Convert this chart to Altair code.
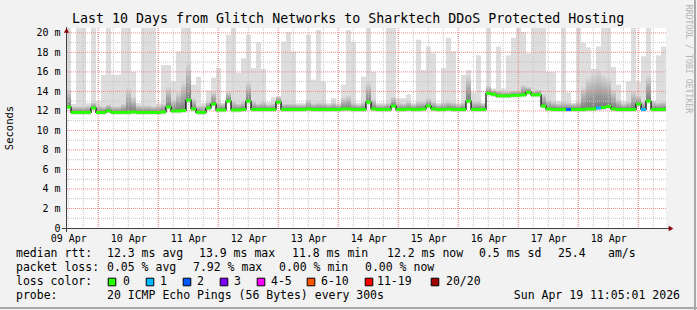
import json
import altair as alt
import pandas as pd

# ---------------- data ----------------
TITLE = "Last 10 Days from Glitch Networks to Sharktech DDoS Protected Hosting"
DAY_LABELS = ["09 Apr", "10 Apr", "11 Apr", "12 Apr", "13 Apr",
              "14 Apr", "15 Apr", "16 Apr", "17 Apr", "18 Apr"]
BIN_HOURS = 2          # one smoke column every 2 hours, 120 columns over 10 days
START_OFFSET_NOON = 55 / 60   # graph starts Apr 09 11:05 -> noon is 0.9167 h in

median_ms = [
    12.4, 11.85, 11.85, 11.85, 11.85, 12.3, 11.85, 11.85, 12.0, 11.85,
    11.85, 11.85, 11.85, 11.9, 11.85, 11.85, 11.85, 11.85, 11.85, 11.9,
    12.4, 12.0, 12.0, 12.05, 13.1, 12.2, 11.85, 11.85, 12.3, 12.7,
    12.1, 12.1, 13.0, 12.1, 12.1, 12.15, 13.0, 12.15, 12.15, 12.15,
    12.15, 12.15, 12.9, 12.15, 12.15, 12.15, 12.15, 12.15, 12.2, 12.15,
    12.15, 12.15, 12.15, 12.15, 12.15, 12.2, 12.2, 12.15, 12.15, 12.15,
    12.9, 12.2, 12.15, 12.15, 12.15, 12.5, 12.15, 12.15, 12.2, 12.15,
    12.15, 12.2, 12.5, 12.2, 12.15, 12.15, 12.2, 12.15, 12.15, 12.15,
    13.0, 12.15, 12.15, 12.15, 13.8, 13.7, 13.55, 13.55, 13.55, 13.6,
    13.6, 13.65, 13.9, 13.65, 13.65, 12.5, 12.2, 12.15, 12.15, 12.15,
    12.15, 12.15, 12.15, 12.15, 12.2, 12.2, 12.3, 12.35, 12.45, 12.2,
    12.15, 12.15, 12.15, 12.15, 12.7, 12.15, 13.0, 12.15, 12.15, 12.15,
]

smoke_max = [
    20.5, 12.7, 20.5, 20.5, 12.8, 20.5, 13.0, 15.7, 20.5, 15.7,
    15.7, 20.5, 20.5, 16.0, 12.8, 20.5, 20.5, 20.5, 12.8, 16.7,
    16.7, 15.0, 18.1, 20.5, 20.5, 14.7, 15.5, 12.8, 14.1, 15.4,
    16.4, 12.8, 19.8, 20.5, 15.9, 17.4, 19.8, 16.4, 19.0, 16.3,
    12.9, 13.4, 13.4, 19.1, 20.1, 18.1, 12.8, 12.8, 19.8, 15.2,
    20.3, 15.0, 12.8, 13.3, 12.8, 14.7, 20.3, 19.1, 12.8, 15.5,
    20.5, 16.0, 12.8, 12.8, 20.5, 20.5, 13.3, 13.3, 13.7, 12.8,
    19.3, 16.2, 18.6, 17.9, 12.8, 16.4, 19.5, 18.1, 12.8, 15.7,
    16.2, 13.9, 17.7, 12.8, 20.5, 14.3, 18.6, 14.3, 17.7, 19.5,
    20.5, 20.1, 17.9, 20.5, 20.5, 20.5, 16.0, 16.0, 13.0, 20.5,
    13.9, 12.8, 20.5, 19.0, 18.5, 16.3, 18.6, 20.5, 20.5, 16.5,
    14.7, 13.0, 15.0, 20.5, 15.0, 17.6, 20.5, 13.0, 17.7, 18.6,
]

smoke_mid = [
    14.3, 12.5, 12.5, 12.5, 12.6, 12.9, 12.6, 12.5, 12.7, 12.5,
    12.5, 12.8, 14.4, 13.5, 12.6, 12.6, 12.6, 12.5, 12.6, 12.8,
    14.5, 13.2, 14.0, 15.0, 17.0, 13.3, 12.6, 12.6, 13.0, 14.0,
    12.9, 12.8, 14.0, 13.0, 12.8, 13.0, 15.0, 13.0, 12.8, 13.0,
    12.7, 12.8, 13.5, 12.8, 12.8, 12.8, 12.7, 12.7, 13.2, 12.8,
    12.9, 12.9, 12.7, 12.9, 12.7, 13.4, 13.6, 12.9, 12.7, 12.9,
    15.0, 13.2, 12.7, 12.7, 12.9, 13.5, 12.9, 12.8, 13.0, 12.7,
    13.0, 13.0, 13.3, 13.0, 12.7, 12.9, 13.0, 12.9, 12.7, 12.9,
    15.7, 13.0, 13.0, 12.8, 14.6, 14.2, 14.1, 14.0, 14.0, 14.1,
    14.1, 14.7, 14.5, 14.1, 14.2, 13.8, 13.2, 13.0, 12.8, 13.0,
    12.9, 12.8, 13.0, 14.5, 15.5, 16.0, 16.3, 15.8, 15.5, 14.2,
    13.2, 12.8, 13.0, 14.1, 13.6, 13.0, 15.7, 13.0, 12.9, 13.0,
]

loss_pings = [
    0, 0, 0, 0, 0, 0, 0, 0, 0, 0,
    0, 0, 0, 0, 0, 0, 0, 0, 0, 0,
    0, 0, 0, 0, 0, 0, 0, 0, 0, 0,
    0, 0, 0, 0, 0, 0, 0, 0, 0, 0,
    0, 0, 0, 0, 0, 0, 0, 0, 0, 0,
    0, 0, 0, 0, 0, 0, 0, 0, 0, 0,
    0, 0, 0, 0, 0, 0, 0, 0, 0, 0,
    0, 0, 0, 0, 0, 0, 0, 0, 0, 0,
    0, 0, 0, 0, 0, 0, 0, 0, 0, 0,
    0, 0, 0, 0, 0, 0, 0, 0, 0, 0,
    2, 0, 0, 0, 0, 0, 1, 0, 0, 0,
    0, 0, 0, 0, 0, 1, 0, 0, 0, 0,
]

LOSS_LABELS = ["0", "1", "2", "3", "4-5", "6-10", "11-19", "20/20"]
LOSS_COLORS = ["#26ff00", "#00b8ff", "#0059ff", "#7e00ff",
               "#ff00ff", "#ff5500", "#ff0000", "#a10000"]

STAT_LINE1 = ["median rtt:", "12.3 ms avg", "13.9 ms max", "11.8 ms min",
              "12.2 ms now", "0.5 ms sd", "25.4", "am/s"]
STAT_LINE2 = ["packet loss:", "0.05 % avg", "7.92 % max", "0.00 % min", "0.00 % now"]
LEGEND_HEAD = "loss color:"
PROBE_HEAD = "probe:"
PROBE_TEXT = "20 ICMP Echo Pings (56 Bytes) every 300s"
STAMP = "Sun Apr 19 11:05:01 2026"
WATERMARK = "RRDTOOL / TOBI OETIKER"

# ---------------- layout constants ----------------
PL, PT, W, H = 66, 28, 600, 200
MONO = "DejaVu Sans Mono"
BG = "#f2f2f2"

n = len(median_ms)
df = pd.DataFrame({
    "t0": [BIN_HOURS * i for i in range(n)],
    "t1": [BIN_HOURS * (i + 1) for i in range(n)],
    "median": median_ms,
    "smax": smoke_max,
    "smid": smoke_mid,
    "loss": [LOSS_LABELS[v] if v < 4 else LOSS_LABELS[4] for v in loss_pings],
})
df["lo"] = df["median"] - 0.25
one = pd.DataFrame({"k": [0]})

total_h = BIN_HOURS * n
xscale = alt.Scale(domain=[0, total_h], nice=False, zero=False)
yscale = alt.Scale(domain=[0, 20.5], nice=False, zero=True, clamp=True)

noon_vals = [START_OFFSET_NOON + 24 * k for k in range(len(DAY_LABELS))]
label_expr = (json.dumps(DAY_LABELS).replace('"', "'")
              + f"[round((datum.value - {START_OFFSET_NOON}) / 24)]")

xaxis = alt.Axis(values=noon_vals, labelExpr=label_expr, domain=False, ticks=False,
                 grid=False, labelFont=MONO, labelFontSize=10, labelColor="#000",
                 labelFontWeight="normal", labelPadding=5, title=None, labelFlush=False)
yaxis = alt.Axis(values=list(range(0, 21, 2)),
                 labelExpr="datum.value == 0 ? '0' : datum.value + ' m'",
                 domain=False, ticks=False, grid=False, labelFont=MONO,
                 labelFontWeight="normal", labelFontSize=10, labelColor="#000",
                 labelPadding=6, title=None)


def X(field):
    return alt.X(field, scale=xscale, axis=xaxis)


def Y(field):
    return alt.Y(field, scale=yscale, axis=yaxis)


base = alt.Chart(df)

light = base.mark_rect(color="#dddddd").encode(
    x=X("t0:Q"), x2="t1:Q", y=Y("lo:Q"), y2="smax:Q")

grad = alt.Gradient(
    gradient="linear",
    stops=[alt.GradientStop(color="#7a7a7a", offset=0),
           alt.GradientStop(color="#dcdcdc", offset=1)],
    x1=0, x2=0, y1=1, y2=0,
)
mid = base.mark_rect(color=grad).encode(
    x=X("t0:Q"), x2="t1:Q", y=Y("median:Q"), y2="smid:Q")

# grid lines
midnights = [START_OFFSET_NOON + 12 + 24 * k for k in range(10)]
six_hours = [START_OFFSET_NOON + 6 * k for k in range(40)]
minor_x = alt.Chart(pd.DataFrame({"h": six_hours})).mark_rule(
    color="#c4c4c4", strokeDash=[1, 1], strokeWidth=1).encode(x=X("h:Q"))
major_x = alt.Chart(pd.DataFrame({"h": midnights})).mark_rule(
    color="#f08c8c", strokeDash=[1, 1], strokeWidth=1).encode(x=X("h:Q"))
minor_y = alt.Chart(pd.DataFrame({"v": list(range(1, 21, 2))})).mark_rule(
    color="#c4c4c4", strokeDash=[1, 1], strokeWidth=1).encode(y=Y("v:Q"))
major_y = alt.Chart(pd.DataFrame({"v": list(range(2, 21, 2))})).mark_rule(
    color="#f08c8c", strokeDash=[1, 1], strokeWidth=1).encode(y=Y("v:Q"))

# median: black step connectors + thick coloured segments
step_df = pd.DataFrame({"t": list(df["t0"]) + [total_h],
                        "m": median_ms + [median_ms[-1]]})
step = alt.Chart(step_df).mark_line(color="#000000", strokeWidth=1.2,
                                    interpolate="step-after").encode(
    x=X("t:Q"), y=Y("m:Q"))
green = base.mark_rule(strokeWidth=3).encode(
    x=X("t0:Q"), x2="t1:Q", y=Y("median:Q"),
    color=alt.Color("loss:N", scale=alt.Scale(domain=LOSS_LABELS, range=LOSS_COLORS),
                    legend=None),
)

# axis lines and arrows
AX = "#404040"
yline = alt.Chart(one).mark_rule(color=AX, strokeWidth=1).encode(
    x=alt.value(0.5), y=alt.value(-1), y2=alt.value(H + 4))
xline = alt.Chart(one).mark_rule(color=AX, strokeWidth=1).encode(
    x=alt.value(-4), x2=alt.value(W + 3), y=alt.value(H + 0.5))
up_arrow = alt.Chart(one).mark_point(shape="triangle-up", filled=True, size=28,
                                     color="#8b0000", opacity=1).encode(
    x=alt.value(0.5), y=alt.value(2.5))
right_arrow = alt.Chart(one).mark_point(shape="triangle-right", filled=True, size=28,
                                        color="#8b0000", opacity=1).encode(
    x=alt.value(W + 5), y=alt.value(H + 0.5))


# texts
def txt(s, px, py, size=11.5, align="left", angle=0, color="#000"):
    return alt.Chart(one).mark_text(
        text=s, font=MONO, fontSize=size, fontWeight="normal", align=align,
        baseline="middle", angle=angle, color=color
    ).encode(x=alt.value(px - PL), y=alt.value(py - PT))


texts = [txt(TITLE, 72, 19, size=13.3),
         txt("Seconds", 10, 128, size=10.5, align="center", angle=270),
         txt(WATERMARK, 688, 59, size=8.2, align="center", angle=90, color="#b4b4b4")]

line1_x = [16, 107, 199, 292, 387, 479, 558, 608]
line2_x = [16, 107, 193, 279, 365]
for s, px in zip(STAT_LINE1, line1_x):
    texts.append(txt(s, px, 254))
for s, px in zip(STAT_LINE2, line2_x):
    texts.append(txt(s, px, 268))
texts.append(txt(LEGEND_HEAD, 16, 282))
box_x = [112, 150, 187, 224, 261, 311, 369, 435]
lab_x = [123, 160, 197, 234, 271, 321, 377, 446]
for s, px in zip(LOSS_LABELS, lab_x):
    texts.append(txt(s, px, 282))
texts.append(txt(PROBE_HEAD, 16, 296))
texts.append(txt(PROBE_TEXT, 107, 296))
texts.append(txt(STAMP, 680, 296, align="right"))

boxes_df = pd.DataFrame({"px": [b - PL for b in box_x], "py": [282 - PT] * 8,
                         "col": LOSS_COLORS})
boxes = alt.Chart(boxes_df).mark_square(size=58, filled=True, opacity=1,
                                        stroke="#000", strokeWidth=1).encode(
    x=alt.X("px:Q", scale=None), y=alt.Y("py:Q", scale=None),
    color=alt.Color("col:N", scale=None))

# frame shading
frame_r = alt.Chart(one).mark_rule(color="#a9a9a9", strokeWidth=2).encode(
    x=alt.value(695 - PL), y=alt.value(-PT), y2=alt.value(310 - PT))
frame_b = alt.Chart(one).mark_rule(color="#a9a9a9", strokeWidth=2).encode(
    x=alt.value(-PL), x2=alt.value(697 - PL), y=alt.value(308 - PT))

chart = alt.layer(
    light, mid, minor_x, minor_y, major_x, major_y, step, green,
    yline, xline, up_arrow, right_arrow, boxes, frame_r, frame_b, *texts
).properties(
    width=W, height=H,
    padding={"left": PL, "top": PT, "right": 697 - PL - W, "bottom": 310 - PT - H},
    autosize=alt.AutoSizeParams(type="none"),
    background=BG,
).configure_view(stroke=None, fill="white")

chart.save("out.html", embed_options={"renderer": "svg", "actions": False})
